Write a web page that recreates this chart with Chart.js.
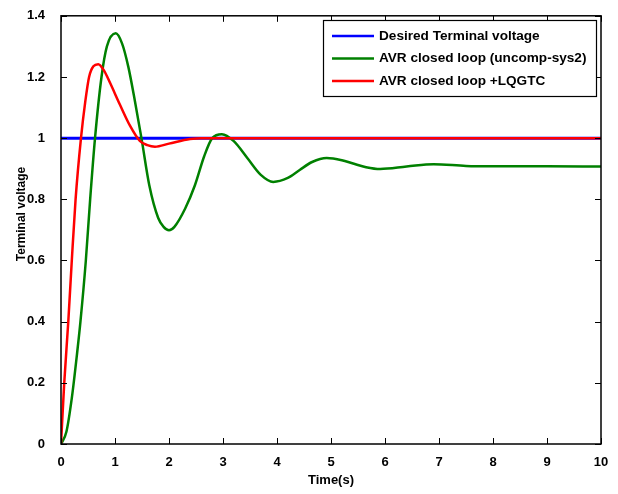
<!DOCTYPE html>
<html>
<head>
<meta charset="utf-8">
<script src="https://cdn.jsdelivr.net/npm/chart.js@4.4.0/dist/chart.umd.min.js"></script>
<style>
  html, body { margin: 0; padding: 0; background: #fff; }
  #wrap { width: 618px; height: 494px; }
</style>
</head>
<body>
<div id="wrap"><canvas id="grafico"></canvas></div>
<script>
// Datos (tiempo en s, tensión en p.u.)
const etiquetasSeries = ['Desired Terminal voltage', 'AVR closed loop (uncomp-sys2)', 'AVR closed loop +LQGTC'];

const tDeseada = [0, 10];
const vDeseada = [1, 1];

const tSinComp = [0, 0.1, 0.2, 0.3, 0.36, 0.46, 0.54, 0.63, 0.75, 0.85, 1.013, 1.13, 1.247, 1.37, 1.49, 1.635, 1.8, 1.9, 2.0,
  2.1, 2.3, 2.48, 2.65, 2.8, 2.98, 3.2, 3.45, 3.7, 3.93, 4.2, 4.42, 4.65, 4.92, 5.2, 5.41, 5.65, 5.91, 6.4, 6.9, 7.5, 8, 9, 10];
const vSinComp = [0, 0.04, 0.15, 0.3, 0.4, 0.6, 0.8, 1.0, 1.2, 1.3, 1.343, 1.31, 1.233, 1.12, 1.0, 0.846, 0.739, 0.71, 0.699,
  0.71, 0.77, 0.846, 0.94, 1.0, 1.013, 0.99, 0.935, 0.88, 0.857, 0.87, 0.896, 0.922, 0.935, 0.928, 0.917, 0.905, 0.899, 0.907, 0.915, 0.909, 0.908, 0.908, 0.907];

const tLQG = [0, 0.06, 0.135, 0.2, 0.27, 0.37, 0.45, 0.52, 0.6, 0.69, 0.8, 0.91, 1.09, 1.28, 1.46, 1.6, 1.74, 2.0, 2.39, 2.6, 10];
const vLQG = [0, 0.2, 0.4, 0.6, 0.8, 1.0, 1.12, 1.2, 1.235, 1.242, 1.22, 1.18, 1.11, 1.04, 0.991, 0.977, 0.972, 0.982, 0.997, 1.0, 1.0];

const ticksX = [0, 1, 2, 3, 4, 5, 6, 7, 8, 9, 10];
const ticksY = [0, 0.2, 0.4, 0.6, 0.8, 1, 1.2, 1.4];

const fuente = 'Arial, "Liberation Sans", sans-serif';

function puntos(xs, ys) {
    return xs.map((x, i) => ({ x: x, y: ys[i] }));
}

// Marco, marcas interiores, título del eje Y y leyenda estilo MATLAB
const marcoPlugin = {
    id: 'marco',
    afterDraw(chart) {
        const ctx = chart.ctx;
        const a = chart.chartArea;
        const sx = chart.scales.x, sy = chart.scales.y;
        ctx.save();
        ctx.strokeStyle = '#000';
        ctx.lineWidth = 1;
        ticksX.forEach(v => {
            const px = Math.round(sx.getPixelForValue(v)) + 0.5;
            ctx.beginPath();
            ctx.moveTo(px, a.bottom); ctx.lineTo(px, a.bottom - 6);
            ctx.moveTo(px, a.top); ctx.lineTo(px, a.top + 6);
            ctx.stroke();
        });
        ticksY.forEach(v => {
            const py = Math.round(sy.getPixelForValue(v)) + 0.5;
            ctx.beginPath();
            ctx.moveTo(a.left, py); ctx.lineTo(a.left + 6, py);
            ctx.moveTo(a.right, py); ctx.lineTo(a.right - 6, py);
            ctx.stroke();
        });
        ctx.lineWidth = 1.5;
        ctx.strokeRect(a.left, a.top, a.right - a.left, a.bottom - a.top);

        // Título eje Y
        ctx.save();
        ctx.translate(22, 214);
        ctx.rotate(-Math.PI / 2);
        ctx.font = 'bold 12px ' + fuente;
        ctx.fillStyle = '#000';
        ctx.textAlign = 'center';
        ctx.textBaseline = 'middle';
        ctx.fillText('Terminal voltage', 0, 0);
        ctx.restore();

        // Leyenda
        const lx = 323, ly = 20, lw = 273, lh = 76;
        ctx.fillStyle = '#fff';
        ctx.fillRect(lx, ly, lw, lh);
        ctx.lineWidth = 1.2;
        ctx.strokeStyle = '#000';
        ctx.strokeRect(lx + 0.5, ly + 0.5, lw, lh);
        const filas = [36, 58.5, 81];
        ctx.font = 'bold 13.6px ' + fuente;
        ctx.textBaseline = 'middle';
        chart.data.datasets.forEach((d, i) => {
            ctx.strokeStyle = d.borderColor;
            ctx.lineWidth = 2.5;
            ctx.beginPath();
            ctx.moveTo(332, filas[i]); ctx.lineTo(374, filas[i]);
            ctx.stroke();
            ctx.fillStyle = '#000';
            ctx.fillText(d.label, 379, filas[i]);
        });
        ctx.restore();
    }
};

new Chart(document.getElementById('grafico').getContext('2d'), {
    type: 'line',
    data: {
        datasets: [{
            label: etiquetasSeries[0],
            data: puntos(tDeseada, vDeseada),
            borderColor: '#0000ff',
            borderWidth: 3,
            order: 2
        }, {
            label: etiquetasSeries[1],
            data: puntos(tSinComp, vSinComp),
            borderColor: '#008000',
            borderWidth: 2.5,
            cubicInterpolationMode: 'monotone',
            order: 1
        }, {
            label: etiquetasSeries[2],
            data: puntos(tLQG, vLQG),
            borderColor: '#ff0000',
            borderWidth: 2.5,
            cubicInterpolationMode: 'monotone',
            order: 0
        }]
    },
    options: {
        responsive: true,
        maintainAspectRatio: false,
        animation: false,
        events: [],
        layout: { padding: { left: 0, right: 17, top: 10, bottom: 2 } },
        elements: { point: { radius: 0 }, line: { fill: false } },
        plugins: { legend: { display: false }, tooltip: { enabled: false } },
        scales: {
            x: {
                type: 'linear',
                min: 0, max: 10,
                afterBuildTicks: s => { s.ticks = ticksX.map(v => ({ value: v })); },
                afterFit: s => { s.height = 48; },
                grid: { display: false },
                border: { display: false },
                ticks: { color: '#000', padding: 3, font: { family: fuente, size: 13, weight: 'bold' } },
                title: { display: true, text: 'Time(s)', color: '#000', padding: { top: 0, bottom: 4 },
                         font: { family: fuente, size: 13, weight: 'bold' } }
            },
            y: {
                min: 0, max: 1.4,
                afterBuildTicks: s => { s.ticks = ticksY.map(v => ({ value: v })); },
                afterFit: s => { s.width = 61; },
                grid: { display: false },
                border: { display: false },
                ticks: { color: '#000', padding: 8, font: { family: fuente, size: 13, weight: 'bold' },
                         callback: v => String(Math.round(v * 10) / 10) },
                title: { display: false }
            }
        }
    },
    plugins: [marcoPlugin]
});
</script>
</body>
</html>
